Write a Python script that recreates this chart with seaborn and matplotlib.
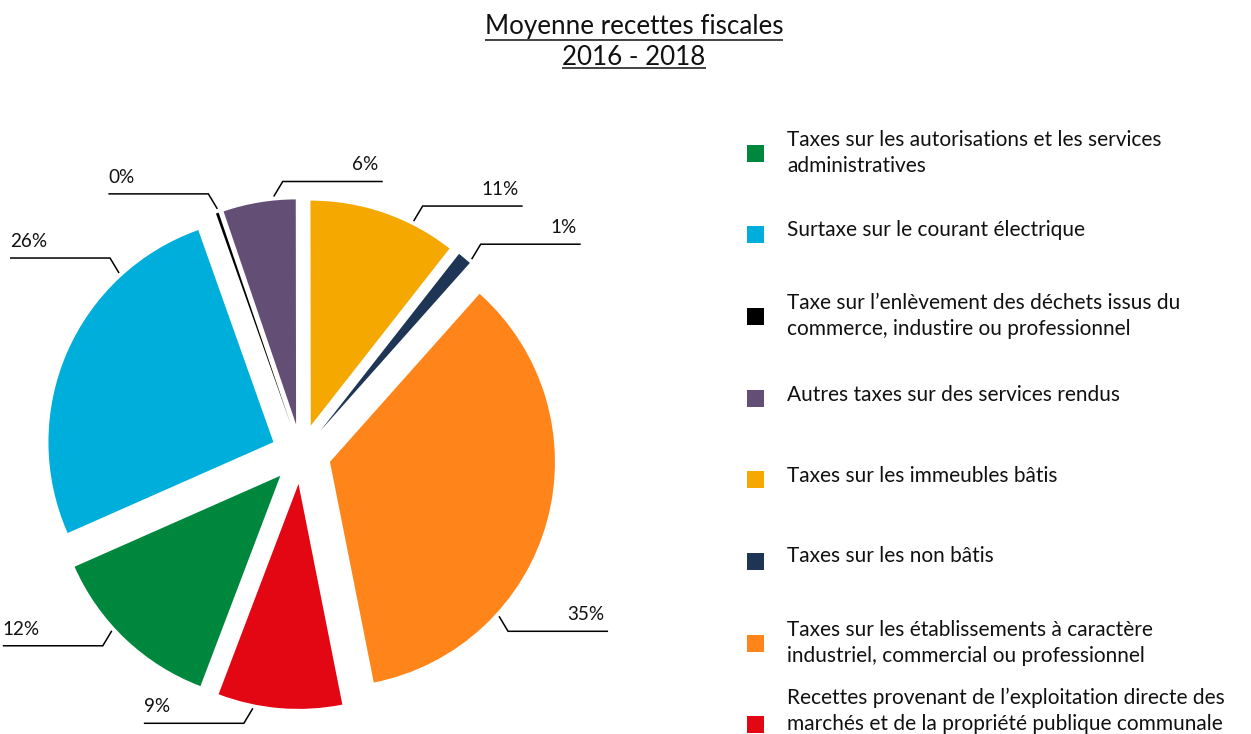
import matplotlib
matplotlib.use("Agg")
import math
import matplotlib.pyplot as plt
import seaborn as sns

# ---------------- data ----------------
categories = [
    "Taxes sur les autorisations et les services\nadministratives",
    "Surtaxe sur le courant électrique",
    "Taxe sur l’enlèvement des déchets issus du\ncommerce, industire ou professionnel",
    "Autres taxes sur des services rendus",
    "Taxes sur les immeubles bâtis",
    "Taxes sur les non bâtis",
    "Taxes sur les établissements à caractère\nindustriel, commercial ou professionnel",
    "Recettes provenant de l’exploitation directe des\nmarchés et de la propriété publique communale",
]
shares = [12.6, 26.2, 0.2, 5.2, 10.6, 1.0, 35.3, 8.9]
pct_labels = ["12%", "26%", "0%", "6%", "11%", "1%", "35%", "9%"]
colors = ["#00873E", "#00AEDB", "#000000", "#634E76",
          "#F5A800", "#1E3555", "#FF8419", "#E30613"]
title_lines = ["Moyenne recettes fiscales", "2016 - 2018"]

# ---------------- style ----------------
sns.set_theme(style="white")
FONT = ["Lato", "DejaVu Sans"]
plt.rcParams["font.family"] = FONT
palette = sns.color_palette(colors)

W, H = 1251, 734
fig = plt.figure(figsize=(W / 100, H / 100), dpi=100)
ax = fig.add_axes([0, 0, 1, 1])
renderer = fig.canvas.get_renderer()


def py(y):
    """image pixel row -> data y"""
    return H - y


def fit_size(s, target_px):
    t = fig.text(0, 0, s, fontsize=10)
    w = t.get_window_extent(renderer).width
    t.remove()
    return 10 * target_px / w


leg_fs = fit_size("Taxes sur les autorisations et les services", 375)
title_fs = fit_size(title_lines[0], 299)
pct_fs = fit_size("35%", 37)
TXT = "#111111"

# ---------------- pie ----------------
CX, CY, R, EXPL = 301, 454, 225, 30
wedges, _ = ax.pie(shares, colors=palette, startangle=249.2, counterclock=False,
                   radius=R, center=(CX, py(CY)), explode=[EXPL] * len(shares),
                   wedgeprops=dict(linewidth=0))
ax.set_xlim(0, W)
ax.set_ylim(0, H)
ax.set_aspect("equal")
ax.axis("off")

# ---------------- percentage labels with leader lines ----------------
touch_angles = [222.6, 132.4, 108.8, 95.6, 63.3, 48.6, -42.4, 258.5]
sides = [-1, -1, -1, 1, 1, 1, 1, -1]
for w, ang, side, lab in zip(wedges, touch_angles, sides, pct_labels):
    cx, cy = w.center
    rr = w.r + 4
    a = math.radians(ang)
    tx, ty = cx + rr * math.cos(a), cy + rr * math.sin(a)
    up = 1 if math.sin(a) > 0 else -1
    ex, ey = tx + side * 9, ty + up * 15
    fx = ex + side * 100
    ax.plot([tx, ex, fx], [ty, ey, ey], color="black", lw=1.1,
            solid_joinstyle="miter", solid_capstyle="butt")
    if side < 0:
        ax.text(fx, ey + 11, lab, ha="left", va="baseline", fontsize=pct_fs, color=TXT)
    else:
        ax.text(fx - 4, ey + 11, lab, ha="right", va="baseline", fontsize=pct_fs, color=TXT)

# ---------------- title (underlined) ----------------
title_baselines = [34, 65]
underline_y = [40, 68]
for line, bl, uy in zip(title_lines, title_baselines, underline_y):
    t = ax.text(634, py(bl), line, ha="center", va="baseline", fontsize=title_fs, color=TXT)
    bb = t.get_window_extent(renderer)
    ax.plot([bb.x0, bb.x1], [py(uy), py(uy)], color=TXT, lw=1.1, solid_capstyle="butt")

# ---------------- legend ----------------
SQ = 17
sq_x = 747
sq_centers = [153 + i * 81.7 for i in range(len(categories))]
first_offsets = [-7, 1.5, -7, 2.7, 1.7, 0.7, -6.7, -20.7]
LINE_STEP = 25.5
for cat, col, yc, off in zip(categories, palette, sq_centers, first_offsets):
    ax.add_patch(plt.Rectangle((sq_x, py(yc + SQ / 2)), SQ, SQ, facecolor=col,
                               edgecolor="none", clip_on=False))
    for k, ln in enumerate(cat.split("\n")):
        ax.text(787, py(yc + off + k * LINE_STEP), ln, ha="left", va="baseline",
                fontsize=leg_fs, color=TXT)

fig.savefig("out.png", dpi=100)
